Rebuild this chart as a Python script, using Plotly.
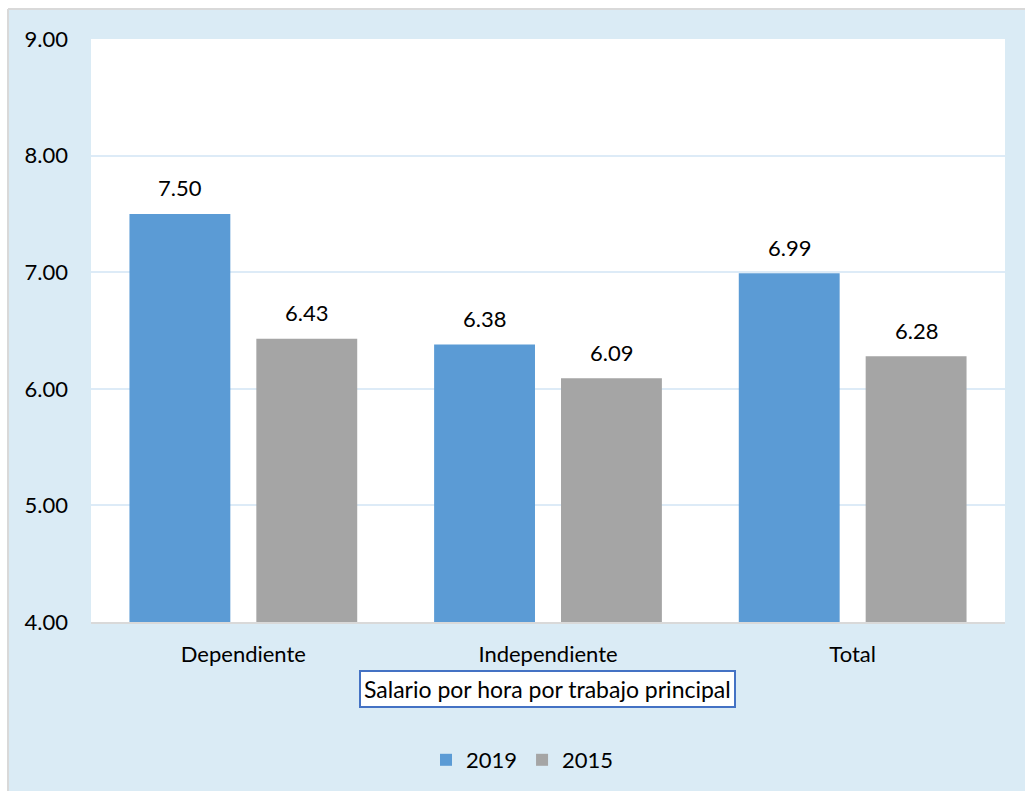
import plotly.graph_objects as go

categories = ["Dependiente", "Independiente", "Total"]
series_names = ["2019", "2015"]
values_2019 = [7.50, 6.38, 6.99]
values_2015 = [6.43, 6.09, 6.28]
y_ticks = [4, 5, 6, 7, 8, 9]
y_tick_labels = ["4.00", "5.00", "6.00", "7.00", "8.00", "9.00"]
x_title = "Salario por hora por trabajo principal"

colors = ["#5B9BD5", "#A5A5A5"]
BG = "#DAEBF5"
FONT = "Lato"
FS = 22
W, H = 1025, 791
L, R, T, B = 91, 20, 39, 169

fig = go.Figure()
for name, vals, col in zip(series_names, [values_2019, values_2015], colors):
    fig.add_trace(go.Bar(x=categories, y=vals, name=name, marker=dict(color=col, line=dict(width=0))))

bargap = 0.167
groupgap = 0.205
slot = (1 - bargap) / 2
offsets = [-slot / 2, slot / 2]
for vals, off in zip([values_2019, values_2015], offsets):
    for i, v in enumerate(vals):
        fig.add_annotation(x=i + off, y=v, xref="x", yref="y", text=f"{v:.2f}", showarrow=False,
                           yanchor="middle", yshift=26, font=dict(family=FONT, size=FS, color="#000000"))

pw = W - L - R
ph = H - T - B


def px_x(x):
    return (x - L) / pw


def px_y(y):
    return (H - B - y) / ph


# white strips outside chart area (left and top) and its border
fig.add_shape(type="rect", xref="paper", yref="paper", x0=px_x(-5), x1=px_x(8), y0=px_y(H + 5), y1=px_y(-5),
              fillcolor="#FFFFFF", line=dict(width=0), layer="above")
fig.add_shape(type="rect", xref="paper", yref="paper", x0=px_x(-5), x1=px_x(W + 5), y0=px_y(9), y1=px_y(-5),
              fillcolor="#FFFFFF", line=dict(width=0), layer="above")
fig.add_shape(type="line", xref="paper", yref="paper", x0=px_x(8), x1=px_x(8), y0=px_y(H + 5), y1=px_y(9),
              line=dict(color="#D9D9D9", width=2), layer="above")
fig.add_shape(type="line", xref="paper", yref="paper", x0=px_x(8), x1=px_x(W + 5), y0=px_y(9), y1=px_y(9),
              line=dict(color="#D9D9D9", width=2), layer="above")

# axis title box
fig.add_annotation(xref="paper", yref="paper", x=px_x(547), y=px_y(689),
                   text=x_title, showarrow=False, xanchor="center", yanchor="middle",
                   font=dict(family=FONT, size=23, color="#000000"),
                   bgcolor="#FFFFFF", bordercolor="#4472C4", borderwidth=2, borderpad=3)

fig.update_layout(
    width=W, height=H,
    margin=dict(l=L, r=R, t=T, b=B, autoexpand=False),
    paper_bgcolor=BG, plot_bgcolor="#FFFFFF",
    barmode="group", bargap=bargap, bargroupgap=groupgap,
    font=dict(family=FONT, size=FS, color="#000000"),
    showlegend=True,
    legend=dict(orientation="h", x=px_x(426), xanchor="left", y=px_y(760), yanchor="middle",
                font=dict(family=FONT, size=FS), bgcolor="rgba(0,0,0,0)", itemwidth=30,
                traceorder="normal"),
    xaxis=dict(showline=True, linecolor="#D9D9D9", linewidth=2, ticks="", showgrid=False,
               tickfont=dict(family=FONT, size=FS), range=[-0.5, 2.5], ticklabelstandoff=12),
    yaxis=dict(range=[4, 9], tickvals=y_ticks, ticktext=y_tick_labels, showgrid=True,
               gridcolor="#DDEBF7", gridwidth=2, zeroline=False, showline=False, ticks="",
               tickfont=dict(family=FONT, size=FS), ticklabelstandoff=22),
)
fig.write_html("out.html")
